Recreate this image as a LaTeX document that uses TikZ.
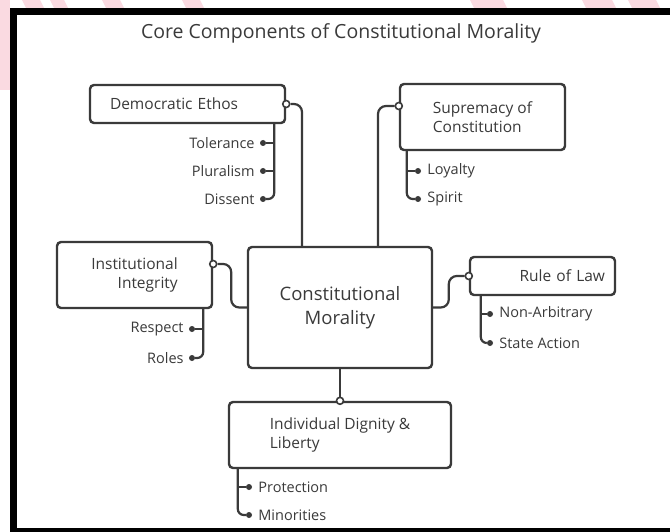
\documentclass[tikz,border=0pt]{standalone}
\usepackage{fontspec}
\setmainfont{Open Sans}
\usetikzlibrary{positioning}
\definecolor{inkgray}{RGB}{58,58,58}
\definecolor{markpink}{RGB}{250,218,225}

\begin{document}
\begin{tikzpicture}[x=1pt, y=-1pt]
% styles
\tikzset{
  topic/.style={rectangle, draw=inkgray, line width=2.4pt, rounded corners=4pt, fill=white, text=inkgray, font=\fontsize{15.5}{19}\selectfont},
  core/.style={topic, minimum width=184pt, minimum height=121pt, align=center, font=\fontsize{18.5}{24}\selectfont},
  link/.style={draw=inkgray, line width=2.2pt, rounded corners=8pt},
  rail/.style={draw=inkgray, line width=2.2pt, rounded corners=6pt},
  port/.style={circle, draw=inkgray, fill=white, line width=1.6pt, inner sep=0pt, minimum size=7pt},
  pin/.style={circle, fill=inkgray, inner sep=0pt, minimum size=6pt},
  item/.style={text=inkgray, inner sep=1pt, font=\fontsize{14.5}{17}\selectfont}
}
\useasboundingbox (0,0) rectangle (670,532);
\fill[white] (0,0) rectangle (670,532);

% page frame and watermark
\fill[markpink] (0,0) rectangle (10,90);
\foreach \a/\b in {22/40, 50/64, 102/120, 182/200, 470/503, 582/612, 628/656}
  \fill[markpink] (\a,0) -- (\b,0) -- (\b+4,8) -- (\a+4,8) -- cycle;
\fill[black] (10,8) rectangle (670,15);
\fill[black] (10,8) rectangle (17,532);
\fill[black] (10,528) rectangle (670,532);

% title
\node[text=inkgray, font=\fontsize{19.5}{23}\selectfont] (title) at (341,33) {Core Components of Constitutional Morality};

% boxes
\node[core] (main) at (340,307.5) {Constitutional\\Morality};
\node[topic, minimum width=195pt, minimum height=38pt, text width=155pt, inner xsep=20pt, align=left] (dem) at (187.5,104) {Democratic Ethos};
\node[topic, minimum width=165pt, minimum height=66pt, align=left] (sup) at (482.5,117) {Supremacy of\\Constitution};
\node[topic, minimum width=155pt, minimum height=66pt, align=right] (inst) at (134.5,275) {Institutional\\Integrity};
\node[topic, minimum width=145pt, minimum height=38pt, text width=125pt, inner xsep=10pt, align=right] (law) at (542.5,276) {Rule of Law};
\node[topic, minimum width=222pt, minimum height=66pt, align=left] (ind) at (340,435) {Individual Dignity \&\\Liberty};

% ports
\node[port] (demport) at (dem.east) {};
\node[port] (support) at ([yshift=11pt]sup.west) {};
\node[port] (instport) at ([yshift=11pt]inst.east) {};
\node[port] (lawport) at (law.west) {};
\node[port] (indport) at (ind.north) {};

% links to the centre
\draw[link] (demport) -| ([xshift=-38pt]main.north);
\draw[link] (support) -| ([xshift=38pt]main.north);
\draw[link] (instport) -- ++(18,0) |- (main.west);
\draw[link] (lawport) -- ++(-20,0) |- (main.east);
\draw[link] (main) -- (indport);

% Democratic Ethos items
\coordinate (demrail) at ([xshift=-12pt]dem.south east);
\node[pin] (toldot) at (263,143) {};
\node[pin] (pludot) at (263,171) {};
\node[pin] (disdot) at (263,199) {};
\node[item, left=4pt of toldot] (tol) {Tolerance};
\node[item, left=4pt of pludot] (plu) {Pluralism};
\node[item, left=4pt of disdot] (dis) {Dissent};
\draw[rail] (demrail) |- (disdot);
\draw[rail] (toldot) -- (toldot -| demrail);
\draw[rail] (pludot) -- (pludot -| demrail);

% Supremacy items
\coordinate (suprail) at ([xshift=8pt]sup.south west);
\node[pin] (loydot) at (418,171) {};
\node[pin] (spidot) at (418,199) {};
\node[item, right=5pt of loydot] (loy) {Loyalty};
\node[item, right=5pt of spidot] (spi) {Spirit};
\draw[rail] (suprail) |- (spidot);
\draw[rail] (loydot) -- (loydot -| suprail);

% Institutional items
\coordinate (instrail) at ([xshift=-10pt]inst.south east);
\node[pin] (resdot) at (192,329) {};
\node[pin] (roldot) at (192,358) {};
\node[item, left=4pt of resdot] (res) {Respect};
\node[item, left=4pt of roldot] (rol) {Roles};
\draw[rail] (instrail) |- (roldot);
\draw[rail] (resdot) -- (resdot -| instrail);

% Rule of Law items
\coordinate (lawrail) at ([xshift=12pt]law.south west);
\node[pin] (arbdot) at (490,314) {};
\node[pin] (stadot) at (490,343) {};
\node[item, right=5pt of arbdot] (arb) {Non-Arbitrary};
\node[item, right=5pt of stadot] (sta) {State Action};
\draw[rail] (lawrail) |- (stadot);
\draw[rail] (arbdot) -- (arbdot -| lawrail);

% Individual Dignity items
\coordinate (indrail) at ([xshift=10pt]ind.south west);
\node[pin] (prodot) at (249,487) {};
\node[pin] (mindot) at (249,515) {};
\node[item, right=5pt of prodot] (pro) {Protection};
\node[item, right=5pt of mindot] (min) {Minorities};
\draw[rail] (indrail) |- (mindot);
\draw[rail] (prodot) -- (prodot -| indrail);
\end{tikzpicture}
\end{document}
